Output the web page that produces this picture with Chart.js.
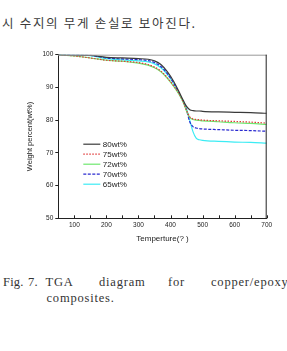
<!DOCTYPE html>
<html>
<head>
<meta charset="utf-8">
<script src="https://cdn.jsdelivr.net/npm/chart.js@4"></script>
<style>
  body { margin: 0; background: #fff; width: 287px; height: 351px; overflow: hidden; position: relative; }
  .kr { position: absolute; left: 2px; top: 13px; font: 12.5px "Noto Sans CJK KR"; letter-spacing: 1.7px; color: #3a3a3a; white-space: nowrap; }
  #wrap { position: absolute; left: 0; top: 40px; width: 287px; height: 220px; }
  .cap { position: absolute; font: 12.5px "Liberation Serif"; letter-spacing: 0.8px; line-height: 1; color: #333; white-space: nowrap; }
</style>
</head>
<body>
<div class="kr">시 수지의 무게 손실로 보아진다.</div>
<div id="wrap"><canvas id="myChart" width="287" height="220"></canvas></div>
<div class="cap" style="left:3px;top:276px;letter-spacing:0.2px">Fig.</div>
<div class="cap" style="left:28px;top:276px;letter-spacing:0.2px">7.</div>
<div class="cap" style="left:45.5px;top:276px">TGA</div>
<div class="cap" style="left:99px;top:276px">diagram</div>
<div class="cap" style="left:168px;top:276px">for</div>
<div class="cap" style="left:211px;top:276px">copper/epoxy</div>
<div class="cap" style="left:46.5px;top:292px">composites.</div>
<script>
// nhiệt độ (x) và % khối lượng cho từng mẫu
const temps = [50, 100, 150, 200, 250, 300, 330, 350, 370, 390, 410, 430, 440, 450, 460, 470, 480, 490, 500, 550, 600, 650, 700];
const labels = ["80wt%", "75wt%", "72wt%", "70wt%", "65wt%"];
const w80 = [100, 99.9, 99.8, 99.2, 99.0, 98.8, 98.6, 98.1, 97.0, 94.8, 91.8, 88.0, 86.0, 84.2, 83.2, 82.9, 82.8, 82.8, 82.7, 82.5, 82.4, 82.3, 82.1];
const w75 = [100, 99.6, 99.0, 98.3, 98.0, 97.6, 97.0, 96.2, 95.0, 93.0, 90.5, 87.5, 85.5, 83.0, 81.0, 80.4, 80.2, 80.1, 80.0, 79.8, 79.6, 79.4, 79.1];
const w72 = [100, 99.6, 99.0, 98.3, 98.0, 97.4, 96.8, 96.0, 94.8, 92.8, 90.3, 87.3, 85.3, 82.8, 80.8, 80.2, 80.0, 79.9, 79.8, 79.5, 79.2, 79.0, 78.7];
const w70 = [100, 99.9, 99.8, 99.0, 98.7, 98.5, 98.2, 97.6, 96.4, 94.2, 91.3, 87.6, 85.6, 83.0, 79.5, 78.0, 77.6, 77.4, 77.3, 77.1, 76.9, 76.8, 76.6];
const w65 = [100, 99.9, 99.7, 98.8, 98.4, 98.1, 97.8, 97.2, 96.0, 94.0, 91.2, 87.5, 85.8, 83.5, 80.0, 76.5, 74.5, 74.0, 73.8, 73.5, 73.3, 73.2, 73.0];
const xTicks = [100, 200, 300, 400, 500, 600, 700];
const yTicks = [50, 60, 70, 80, 90, 100];

const series = [w80, w75, w72, w70, w65];
const colors = ["#3a3a3a", "#e03a3a", "#6ee86e", "#2a2ad0", "#3cecf4"];
const dashes = [[], [1.5, 1.5], [], [3, 1.5], []];

function toPoints(arr) {
  return arr.map((v, i) => ({ x: temps[i], y: v }));
}

// vẽ khung, vạch chia và chú thích
const framePlugin = {
  id: "frame",
  afterDraw(chart) {
    const ctx = chart.ctx;
    const a = chart.chartArea;
    ctx.save();
    ctx.lineWidth = 1;
    ctx.strokeStyle = "#999";
    ctx.beginPath();
    ctx.moveTo(a.left, a.top + 0.5);
    ctx.lineTo(a.right, a.top + 0.5);
    ctx.stroke();
    ctx.strokeStyle = "#222";
    ctx.beginPath();
    ctx.moveTo(a.right - 0.5, a.top);
    ctx.lineTo(a.right - 0.5, a.bottom);
    ctx.stroke();
    // vạch chia trục x hướng vào trong
    const xs = chart.scales.x;
    for (let t = 100; t <= 700; t += 50) {
      const px = Math.round(xs.getPixelForValue(t)) + 0.5;
      ctx.beginPath();
      ctx.moveTo(px, a.bottom);
      ctx.lineTo(px, a.bottom - 3);
      ctx.stroke();
    }
    // chú thích
    ctx.font = "8px 'Liberation Sans'";
    ctx.textBaseline = "middle";
    labels.forEach((name, i) => {
      const y = a.top + 89.5 + i * 10;
      const x0 = a.left + 25;
      ctx.strokeStyle = colors[i];
      ctx.setLineDash(dashes[i]);
      ctx.lineWidth = 1.2;
      ctx.beginPath();
      ctx.moveTo(x0, y);
      ctx.lineTo(x0 + 17, y);
      ctx.stroke();
      ctx.setLineDash([]);
      ctx.fillStyle = "#222";
      ctx.fillText(name, x0 + 19.5, y + 0.5);
    });
    ctx.restore();
  },
};

document.addEventListener("DOMContentLoaded", function () {
  new Chart("myChart", {
    type: "line",
    data: {
      datasets: series.map((arr, i) => ({
        label: labels[i],
        data: toPoints(arr),
        borderColor: colors[i],
        borderDash: dashes[i],
        borderWidth: 1.2,
        pointRadius: 0,
        cubicInterpolationMode: "monotone",
        fill: false,
      })),
    },
    options: {
      responsive: false,
      animation: false,
      layout: { padding: { top: 14.7, right: 20.3, left: 0, bottom: 0 } },
      plugins: { legend: { display: false }, tooltip: { enabled: false } },
      scales: {
        x: {
          type: "linear",
          min: 50,
          max: 700,
          afterBuildTicks: (s) => { s.ticks = xTicks.map((v) => ({ value: v })); },
          afterFit: (s) => { s.height = 41.7; },
          grid: { display: true, drawOnChartArea: false, drawTicks: false },
          border: { display: true, color: "#222", width: 1 },
          ticks: { color: "#222", font: { size: 6.5, family: "Liberation Sans" }, padding: 3 },
          title: {
            display: true,
            text: "Temperture(? )",
            color: "#222",
            font: { size: 8, family: "Liberation Sans" },
            padding: { top: 0, bottom: 16 },
          },
        },
        y: {
          min: 50,
          max: 100,
          afterBuildTicks: (s) => { s.ticks = yTicks.map((v) => ({ value: v })); },
          afterFit: (s) => { s.width = 58.3; },
          grid: { display: true, drawOnChartArea: false, tickLength: 3, color: "#222" },
          border: { display: true, color: "#222", width: 1 },
          ticks: { color: "#222", font: { size: 6.5, family: "Liberation Sans" }, padding: 2 },
          title: {
            display: true,
            text: "Weight percent(wt%)",
            color: "#222",
            font: { size: 7.5, family: "Liberation Sans" },
            padding: { top: 25.5, bottom: 0 },
          },
        },
      },
    },
    plugins: [framePlugin],
  });
});
</script>
</body>
</html>
